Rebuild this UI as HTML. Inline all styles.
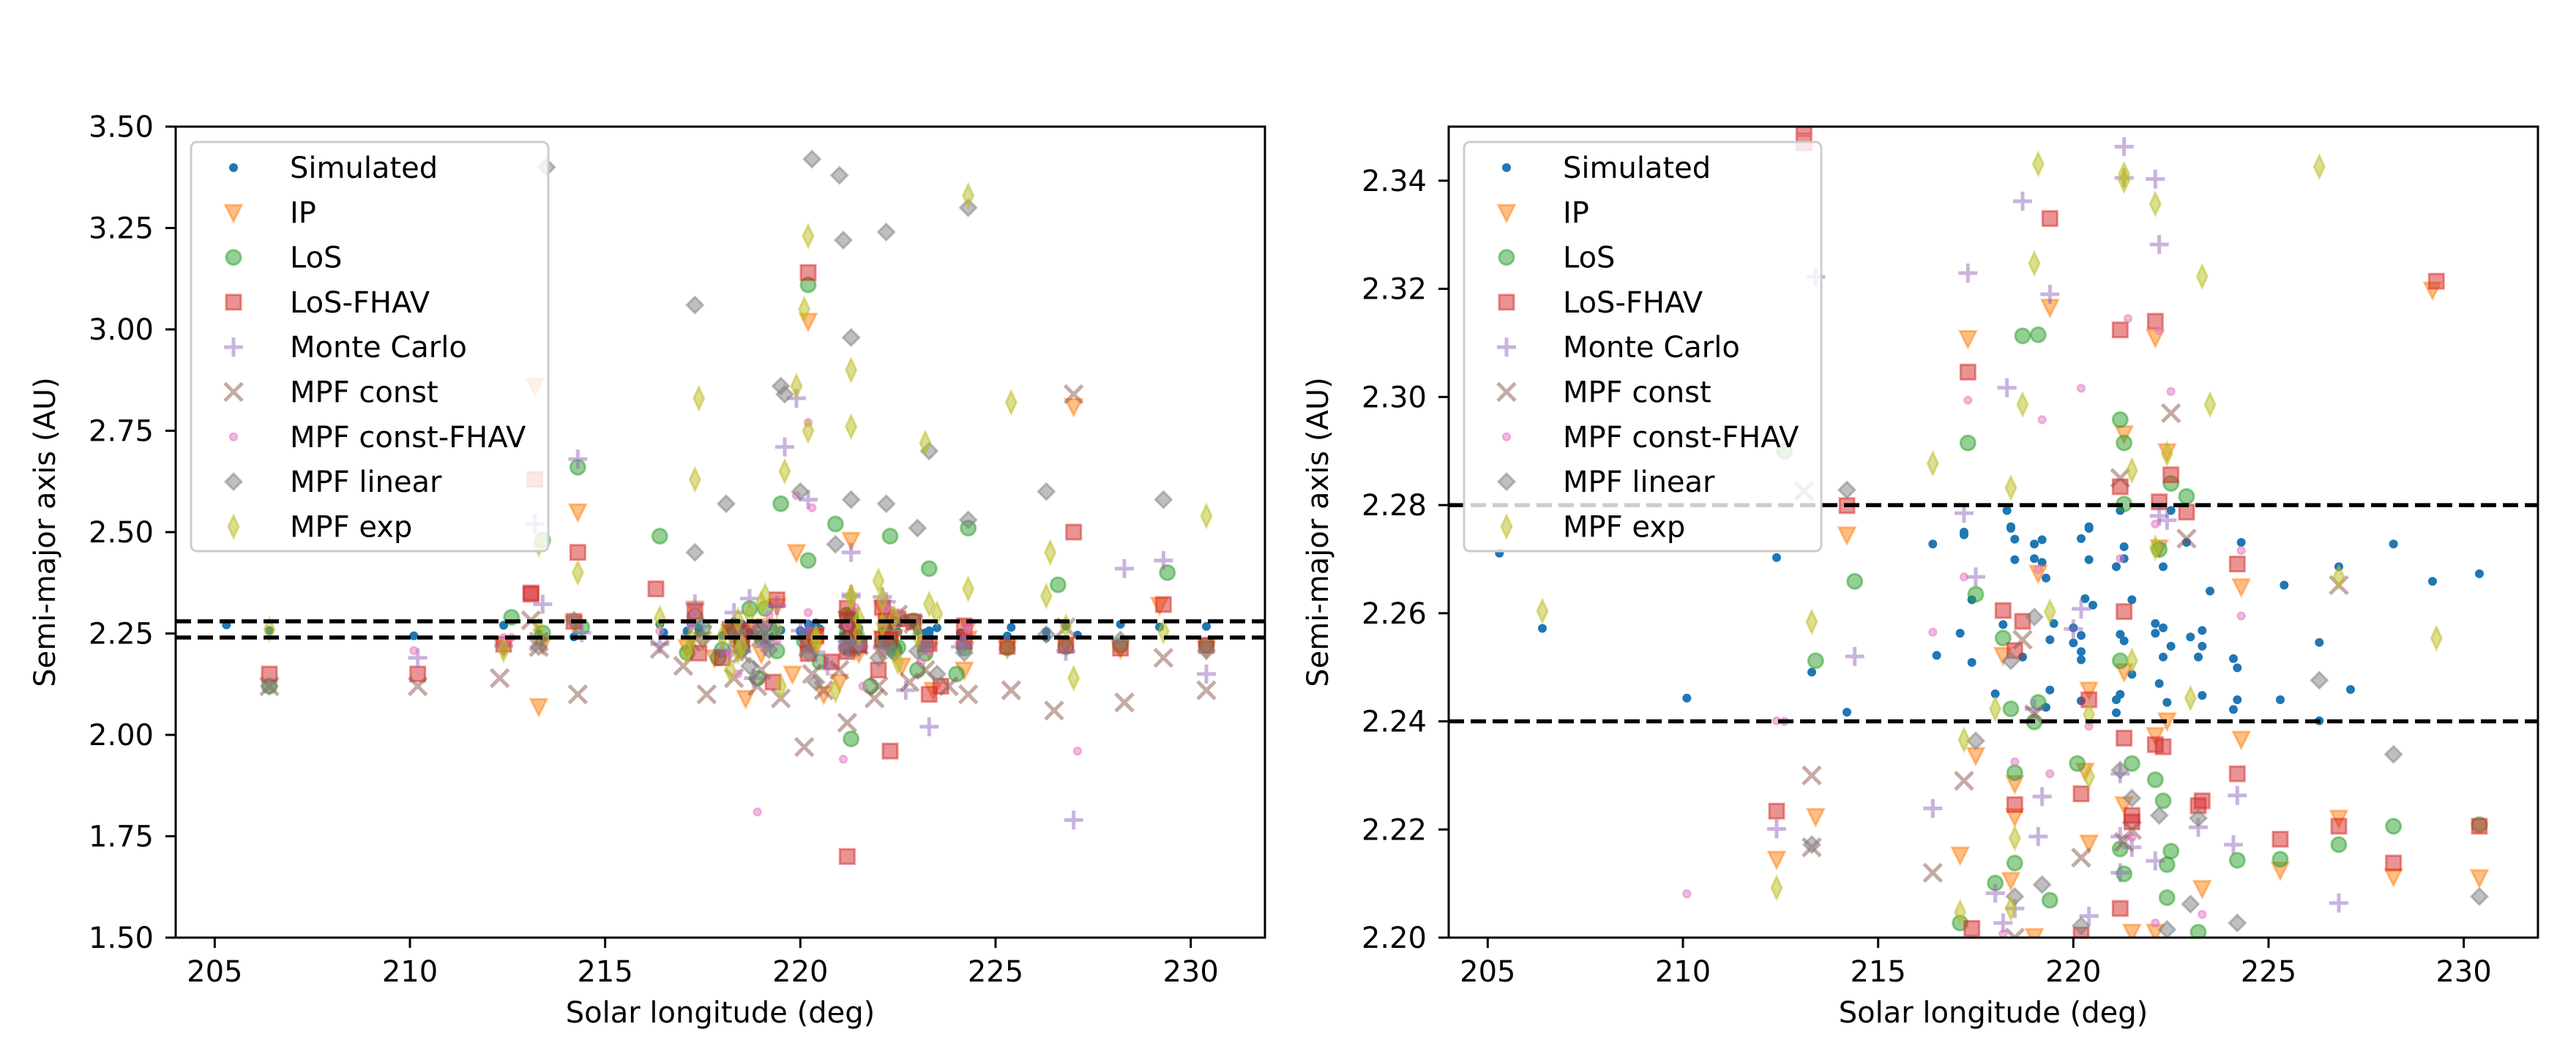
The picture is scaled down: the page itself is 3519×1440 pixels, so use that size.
<!DOCTYPE html>
<html><head><meta charset="utf-8"><style>
html,body{margin:0;padding:0;background:#fff;width:3519px;height:1440px;overflow:hidden;}
svg{display:block;font-family:"DejaVu Sans","Liberation Sans",sans-serif;}
</style></head><body>
<svg id="fig" width="3519" height="1440" viewBox="0 0 3519 1440" xmlns="http://www.w3.org/2000/svg">
<rect width="3519" height="1440" fill="#fff"/>
</svg>
<script>
// ---- data (solar longitude deg, semi-major axis AU) ----
const simLon=[205.3,206.4,210.1,212.4,213.3,214.2,216.4,216.5,217.1,217.2,217.4,217.4,218.0,218.2,218.4,218.5,218.5,218.7,219.0,219.0,219.2,219.2,219.3,219.4,219.3,219.4,219.5,220.0,220.0,220.2,220.2,220.2,220.2,220.2,220.3,220.4,220.4,220.5,221.1,221.1,221.1,221.2,221.2,221.3,221.3,221.3,221.5,221.5,222.1,222.1,222.2,222.3,222.3,222.3,222.4,222.5,222.9,223.0,223.2,223.3,223.3,223.3,223.5,224.1,224.2,224.2,224.1,224.3,225.4,225.3,226.3,226.3,226.8,227.1,228.2,229.2,230.4,218.3,218.4,220.4,217.2,221.2,222.5];
const simA=[2.2711,2.2572,2.2443,2.2703,2.2491,2.2417,2.2728,2.2522,2.2563,2.2745,2.2509,2.2625,2.2451,2.2579,2.2757,2.2737,2.2699,2.2519,2.2728,2.2701,2.2694,2.2736,2.2665,2.2458,2.2426,2.2551,2.2581,2.2573,2.2545,2.2559,2.2529,2.2514,2.2738,2.2438,2.2627,2.2757,2.2699,2.2615,2.2686,2.2440,2.2416,2.2561,2.2450,2.2723,2.2701,2.2549,2.2625,2.2487,2.2581,2.2563,2.2470,2.2686,2.2573,2.2519,2.2435,2.2539,2.2731,2.2556,2.2519,2.2568,2.2448,2.2539,2.2641,2.2516,2.2499,2.2440,2.2422,2.2731,2.2652,2.2440,2.2546,2.2401,2.2686,2.2459,2.2728,2.2659,2.2673,2.279,2.276,2.276,2.275,2.279,2.279];
const ipLon=[214.2,219.1,222.2,224.3,218.2,220.4,221.3,222.4,222.1,224.3,217.5,218.5,220.3,221.3,218.5,213.4,212.4,217.1,220.4,218.4,223.3,225.3,226.8,228.2,230.4,219.0,221.5,222.1,217.3,219.4,222.1,221.3,222.4,229.2,213.2,227.0,214.3,213.3,220.2,219.9,221.3,218.6,219.8,221.0,222.6,223.4,217.8,220.6,224.2];
const ipA=[2.2745,2.2674,2.2721,2.2649,2.2522,2.2458,2.2492,2.2401,2.2374,2.2367,2.2337,2.2285,2.2308,2.2246,2.2224,2.2224,2.2145,2.2153,2.2175,2.2106,2.2091,2.2125,2.2221,2.2113,2.2111,2.2002,2.201,2.201,2.3108,2.3166,2.3110,2.2932,2.2899,2.3198,2.86,2.81,2.55,2.07,3.02,2.45,2.48,2.09,2.15,2.13,2.17,2.11,2.19,2.10,2.16];
const losLon=[214.4,217.5,218.2,213.4,222.2,221.2,218.4,219.1,219.0,220.1,221.5,218.5,222.1,222.3,221.2,222.5,224.2,225.3,226.8,228.2,230.4,218.5,221.3,222.4,218.0,219.4,222.4,217.1,223.2,218.7,219.1,221.2,217.3,221.3,222.5,222.9,221.3,214.3,216.4,219.5,220.2,220.2,222.3,224.3,226.6,229.4,213.4,212.6,221.3,220.9,223.3,206.4,218.9,220.5,221.8,223.0,217.9,224.0];
const losA=[2.2659,2.2635,2.2554,2.2512,2.2718,2.2512,2.2423,2.2435,2.2399,2.2322,2.2322,2.2305,2.2292,2.2253,2.2164,2.2160,2.2143,2.2145,2.2172,2.2206,2.2209,2.2138,2.2118,2.2135,2.2101,2.2069,2.2074,2.2027,2.201,2.3113,2.3115,2.2958,2.2915,2.2915,2.2840,2.2816,2.2802,2.66,2.49,2.57,3.11,2.43,2.49,2.51,2.37,2.40,2.48,2.29,1.99,2.52,2.41,2.12,2.14,2.18,2.12,2.16,2.19,2.15];
const lfLon=[218.2,218.7,218.5,221.3,224.2,220.4,221.3,222.1,222.3,224.2,220.2,218.5,223.3,223.2,221.5,221.5,212.4,225.3,226.8,228.2,230.4,221.2,217.4,220.2,213.1,219.4,221.2,222.1,217.3,222.5,221.2,214.2,222.2,222.9,229.3,213.2,214.3,220.2,222.3,221.2,227.0,213.1,216.3,206.4,210.2,223.3,219.3,220.8,222.0,223.6,218.0];
const lfA=[2.2605,2.2585,2.2531,2.2603,2.2691,2.2440,2.2369,2.2357,2.2353,2.2303,2.2266,2.2246,2.2253,2.2244,2.2226,2.2214,2.2234,2.2182,2.2206,2.2138,2.2206,2.2054,2.2017,2.2005,2.347,2.333,2.3124,2.314,2.3046,2.2856,2.2834,2.2799,2.2806,2.2787,2.3214,2.63,2.45,3.14,1.96,1.70,2.50,2.35,2.36,2.15,2.15,2.10,2.13,2.18,2.16,2.12,2.19];
const mcLon=[213.4,221.3,221.3,222.1,218.7,222.2,217.3,219.4,218.3,217.2,222.2,222.4,217.5,214.4,220.2,220.0,219.0,221.2,219.2,224.2,216.4,212.4,219.1,223.2,221.2,221.5,224.1,222.1,221.2,218.0,218.5,226.8,218.2,220.4,214.3,219.6,219.9,220.2,221.3,229.3,228.3,227.0,213.2,210.2,230.4,223.3,218.8,220.7,222.7];
const mcA=[2.3222,2.3463,2.3405,2.3403,2.3362,2.3282,2.3229,2.319,2.3017,2.2785,2.278,2.2772,2.2667,2.2520,2.2608,2.2571,2.2423,2.2303,2.2261,2.2263,2.2239,2.2201,2.2187,2.2204,2.2187,2.2167,2.2172,2.2142,2.212,2.2082,2.2054,2.2064,2.2027,2.204,2.68,2.71,2.83,2.58,2.45,2.43,2.41,1.79,2.52,2.19,2.15,2.02,2.14,2.17,2.11];
const mcoLon=[213.1,222.5,221.2,222.9,226.8,218.7,217.2,220.2,216.4,213.3,221.3,221.5,219.0,218.5,227.0,220.1,221.2,214.3,210.2,212.3,228.3,230.4,229.3,206.4,224.3,225.4,226.5,219.0,222.0,223.2,213.3,217.6,218.3,219.5,220.6,221.0,221.9,222.8,223.8,217.0,218.9,220.3];
const mcoA=[2.2826,2.2970,2.2850,2.2738,2.2652,2.2551,2.2290,2.2148,2.2120,2.2167,2.2177,2.2199,2.2413,2.200,2.84,1.97,2.03,2.10,2.12,2.14,2.08,2.11,2.19,2.12,2.10,2.11,2.06,2.16,2.12,2.16,2.23,2.10,2.14,2.09,2.11,2.16,2.09,2.13,2.12,2.17,2.12,2.15];
const mcfLon=[221.4,222.2,220.2,222.5,217.3,219.2,222.1,221.2,224.3,217.2,219.1,216.4,224.3,218.5,219.4,212.4,220.4,221.5,210.1,223.3,222.1,218.2,218.9,221.1,227.1,220.2,220.3,219.9,212.6,218.4,221.6,223.1];
const mcfA=[2.3145,2.3123,2.3016,2.3010,2.2994,2.2958,2.2765,2.2701,2.2716,2.2667,2.2681,2.2565,2.2595,2.2325,2.2303,2.2401,2.2391,2.2185,2.2081,2.2043,2.2027,2.2007,1.81,1.94,1.96,2.77,2.56,2.59,2.24,2.15,2.12,2.18];
const mlLon=[214.2,219.0,218.4,226.3,217.5,228.2,221.2,221.5,222.2,223.2,213.3,219.2,218.5,223.0,230.4,224.2,220.2,222.4,213.5,217.3,220.3,221.0,221.1,222.2,224.3,219.5,221.3,218.1,219.6,220.0,221.3,222.2,223.3,224.3,226.3,229.3,217.3,220.9,223.0,206.4,218.7,220.4,222.0,223.5];
const mlA=[2.2828,2.2593,2.2512,2.2476,2.2364,2.2339,2.2310,2.2258,2.2226,2.2221,2.2172,2.2098,2.2076,2.2062,2.2076,2.2027,2.2022,2.2015,3.40,3.06,3.42,3.38,3.22,3.24,3.30,2.86,2.98,2.57,2.84,2.60,2.58,2.57,2.70,2.53,2.60,2.58,2.45,2.47,2.51,2.12,2.17,2.13,2.19,2.15];
const meLon=[219.1,226.3,221.3,222.1,219.0,223.3,218.7,223.5,216.4,221.5,218.4,222.4,206.4,213.3,219.4,221.5,222.1,226.8,229.3,223.0,218.0,220.4,217.2,220.4,218.5,212.4,217.1,218.4,220.2,224.3,220.1,221.3,217.4,225.4,219.9,217.3,219.6,223.2,221.3,220.2,214.3,230.4,226.4,222.0,224.3,221.3,227.0,219.5,213.3,218.2,220.9,222.5];
const meA=[2.3431,2.3426,2.3412,2.3357,2.3247,2.3223,2.2986,2.2986,2.2877,2.2864,2.2832,2.2895,2.2604,2.2584,2.2603,2.2512,2.2721,2.2667,2.2554,2.2443,2.2423,2.2413,2.2366,2.2298,2.2184,2.2092,2.2047,2.2054,3.23,3.33,3.05,2.90,2.83,2.82,2.86,2.63,2.65,2.72,2.76,2.75,2.40,2.54,2.45,2.38,2.36,2.34,2.14,2.12,2.47,2.16,2.11,2.18];
const xTicks=[205,210,215,220,225,230];
const yTicksL=["1.50","1.75","2.00","2.25","2.50","2.75","3.00","3.25","3.50"];
const yTicksR=["2.20","2.22","2.24","2.26","2.28","2.30","2.32","2.34"];
const refLines=[2.24,2.28];
const legendLabels=["Simulated","IP","LoS","LoS-FHAV","Monte Carlo","MPF const","MPF const-FHAV","MPF linear","MPF exp"];

const NS="http://www.w3.org/2000/svg";
const svg=document.getElementById('fig');
function mk(tag,attrs,parent){const e=document.createElementNS(NS,tag);for(const k in attrs)e.setAttribute(k,attrs[k]);(parent||svg).appendChild(e);return e;}

const series=[
 {lon:simLon,a:simA,c:'#1f77b4',m:'dot',key:'simulated'},
 {lon:ipLon,a:ipA,c:'#ff7f0e',m:'tri',key:'ip'},
 {lon:losLon,a:losA,c:'#2ca02c',m:'circle',key:'los'},
 {lon:lfLon,a:lfA,c:'#d62728',m:'square',key:'los-fhav'},
 {lon:mcLon,a:mcA,c:'#9467bd',m:'plus',key:'monte-carlo'},
 {lon:mcoLon,a:mcoA,c:'#8c564b',m:'x',key:'mpf-const'},
 {lon:mcfLon,a:mcfA,c:'#e377c2',m:'small',key:'mpf-const-fhav'},
 {lon:mlLon,a:mlA,c:'#7f7f7f',m:'diamond',key:'mpf-linear'},
 {lon:meLon,a:meA,c:'#bcbd22',m:'thin',key:'mpf-exp'}
];

function marker(g,m,x,y,c){
  let e;
  const al={'fill':c,'fill-opacity':0.5,'stroke':c,'stroke-opacity':0.5,'stroke-width':3};
  if(m==='dot'){e=mk('circle',{cx:x,cy:y,r:6,fill:c},g);}
  else if(m==='tri'){e=mk('path',Object.assign({d:`M${x-11},${y-10}L${x+11},${y-10}L${x},${y+12}Z`},al),g);}
  else if(m==='circle'){e=mk('circle',Object.assign({cx:x,cy:y,r:10},al),g);}
  else if(m==='square'){e=mk('rect',Object.assign({x:x-10,y:y-10,width:20,height:20},al),g);}
  else if(m==='plus'){e=mk('path',{d:`M${x-13},${y}H${x+13}M${x},${y-13}V${y+13}`,stroke:c,'stroke-opacity':0.5,'stroke-width':5,fill:'none'},g);}
  else if(m==='x'){e=mk('path',{d:`M${x-12},${y-12}L${x+12},${y+12}M${x+12},${y-12}L${x-12},${y+12}`,stroke:c,'stroke-opacity':0.5,'stroke-width':5,fill:'none'},g);}
  else if(m==='small'){e=mk('circle',Object.assign({cx:x,cy:y,r:5},al,{'stroke-width':2.5}),g);}
  else if(m==='diamond'){e=mk('path',Object.assign({d:`M${x},${y-11}L${x+11},${y}L${x},${y+11}L${x-11},${y}Z`},al),g);}
  else if(m==='thin'){e=mk('path',Object.assign({d:`M${x},${y-15}L${x+7},${y}L${x},${y+15}L${x-7},${y}Z`},al),g);}
  return e;
}

function panel(id,left,right,top,bottom,xmin,xmax,ymin,ymax,yTicks,legendX,ylabX){
  const sx=v=>left+(v-xmin)/(xmax-xmin)*(right-left);
  const sy=v=>bottom-(v-ymin)/(ymax-ymin)*(bottom-top);
  const g=mk('g',{});
  
  
  const clip=mk('clipPath',{id:id+'-clip'},g);
  mk('rect',{x:left,y:top,width:right-left,height:bottom-top},clip);
  const plot=mk('g',{'clip-path':`url(#${id}-clip)`},g);
  const pad=(ymax-ymin)*0.02;
  series.forEach(s=>{
    const sg=mk('g',{},plot);
    
    
    for(let i=0;i<s.lon.length;i++){
      if(s.a[i]<ymin-pad||s.a[i]>ymax+pad)continue;
      const e=marker(sg,s.m,sx(s.lon[i]),sy(s.a[i]),s.c);
      
      
    }
  });
  refLines.forEach(v=>{
    const l=mk('line',{x1:left,x2:right,y1:sy(v),y2:sy(v),stroke:'#000','stroke-width':5.5,'stroke-dasharray':'21 9'},plot);
    
    
  });
  const fr=mk('rect',{x:left,y:top,width:right-left,height:bottom-top,fill:'none',stroke:'#000','stroke-width':3},g);
  
  
  xTicks.forEach(t=>{
    const x=sx(t);
    mk('line',{x1:x,x2:x,y1:bottom,y2:bottom+14,stroke:'#000','stroke-width':3},g);
    const tx=mk('text',{x:x,y:1341,'font-size':40,'text-anchor':'middle'},g);
    tx.textContent=t;
    
    
  });
  yTicks.forEach(t=>{
    const y=sy(parseFloat(t));
    mk('line',{x1:left-14,x2:left,y1:y,y2:y,stroke:'#000','stroke-width':3},g);
    const tx=mk('text',{x:left-30,y:y+14,'font-size':40,'text-anchor':'end'},g);
    tx.textContent=t;
    
    
  });
  const xl=mk('text',{x:(left+right)/2,y:1397,'font-size':40,'text-anchor':'middle'},g);
  xl.textContent='Solar longitude (deg)';
  
  
  const yc=(top+bottom)/2;
  const yl=mk('text',{x:ylabX,y:yc,'font-size':40,'text-anchor':'middle',transform:`rotate(-90 ${ylabX} ${yc})`},g);
  yl.textContent='Semi-major axis (AU)';
  
  
  const lg=mk('g',{},g);
  
  
  mk('rect',{x:legendX,y:194,width:488,height:559,rx:8,fill:'#fff','fill-opacity':0.8,stroke:'#cccccc','stroke-width':3},lg);
  legendLabels.forEach((lab,i)=>{
    const y=229+i*61.3;
    const e=marker(lg,series[i].m,legendX+58,y,series[i].c);
    
    
    const t=mk('text',{x:legendX+135,y:y+14,'font-size':40},lg);
    t.textContent=lab;
    
    
  });
}
panel('left',240,1728,173,1281,204.0,231.9,1.5,3.5,yTicksL,261,75);
panel('right',1979,3467,173,1281,204.0,231.9,2.20,2.35,yTicksR,2000,1814);
</script>
</body></html>
